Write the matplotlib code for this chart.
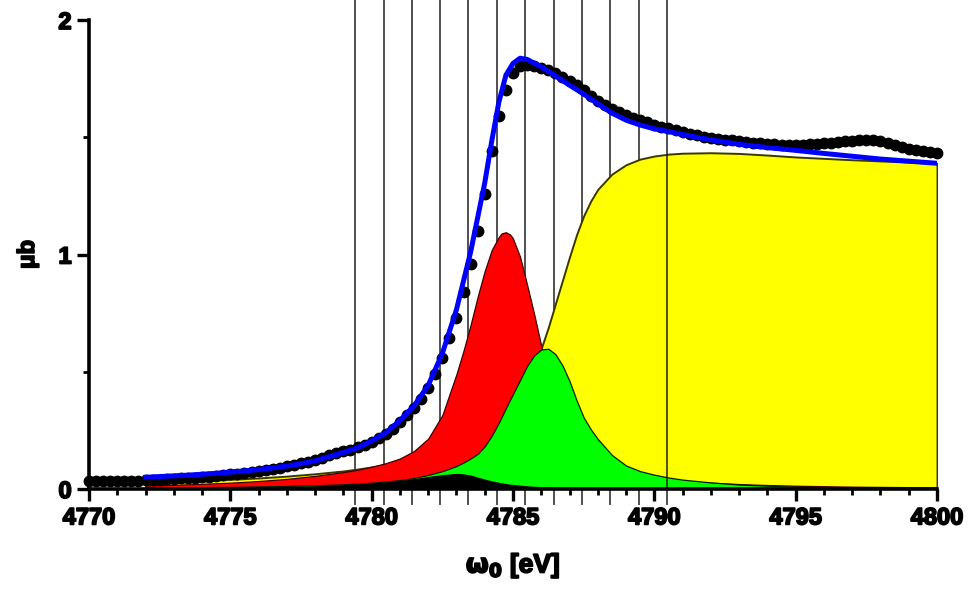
import matplotlib
matplotlib.use("Agg")
import matplotlib.pyplot as plt
import matplotlib.patheffects as pe
import numpy as np

# ---------------- data ----------------
data_x = [4770.00 + 0.25 * i for i in range(121)]
data_y = [
    0.032, 0.032, 0.033, 0.033, 0.034, 0.034, 0.035, 0.036,   # 4770-4771.75
    0.037, 0.038, 0.040, 0.041, 0.043, 0.045, 0.047, 0.049,   # 4772-4773.75
    0.051, 0.053, 0.056, 0.059, 0.062, 0.065, 0.068, 0.072,   # 4774-4775.75
    0.076, 0.080, 0.085, 0.090, 0.096, 0.102, 0.109, 0.117,   # 4776-4777.75
    0.125, 0.134, 0.143, 0.152, 0.160, 0.168, 0.177, 0.189,   # 4778-4779.75
    0.200, 0.216, 0.234, 0.256, 0.285, 0.315, 0.345, 0.385,   # 4780-4781.75
    0.430, 0.490, 0.560, 0.645, 0.730, 0.840, 0.960, 1.100,   # 4782-4783.75
    1.260, 1.440, 1.590, 1.700, 1.772, 1.805, 1.810, 1.805,   # 4784-4785.75
    1.795, 1.785, 1.772, 1.758, 1.740, 1.722, 1.700, 1.675,   # 4786-4787.75
    1.655, 1.637, 1.622, 1.608, 1.594, 1.583, 1.573, 1.563,   # 4788-4789.75
    1.553, 1.545, 1.538, 1.530, 1.522, 1.515, 1.509, 1.503,   # 4790-4791.75
    1.498, 1.494, 1.490, 1.487, 1.483, 1.480, 1.477, 1.474,   # 4792-4793.75
    1.472, 1.470, 1.468, 1.467, 1.467, 1.468, 1.470, 1.472,   # 4794-4795.75
    1.474, 1.477, 1.480, 1.483, 1.486, 1.488, 1.489, 1.488,   # 4796-4797.75
    1.484, 1.477, 1.468, 1.460, 1.452, 1.446, 1.440, 1.436,   # 4798-4799.75
    1.432,                                                    # 4800
]

fit_x = [4772, 4772.5, 4773, 4773.5, 4774, 4774.5, 4775, 4775.5, 4776, 4776.5,
         4777, 4777.5, 4778, 4778.5, 4779, 4779.5, 4780, 4780.5, 4781, 4781.5,
         4782, 4782.5, 4783, 4783.5, 4784, 4784.25, 4784.5, 4784.75, 4785,
         4785.25, 4785.5, 4786, 4786.5, 4787, 4787.5, 4788, 4788.5, 4789,
         4789.5, 4790, 4790.5, 4791, 4791.5, 4792, 4793, 4794, 4795, 4796,
         4797, 4798, 4799, 4800]
fit_y = [0.050, 0.053, 0.056, 0.059, 0.063, 0.067, 0.072, 0.077, 0.083, 0.090,
         0.098, 0.108, 0.120, 0.138, 0.156, 0.176, 0.205, 0.240, 0.292, 0.355,
         0.442, 0.578, 0.765, 1.010, 1.305, 1.485, 1.650, 1.765, 1.815,
         1.837, 1.832, 1.800, 1.762, 1.722, 1.684, 1.643, 1.603, 1.573,
         1.552, 1.536, 1.524, 1.512, 1.500, 1.489, 1.470, 1.456, 1.444, 1.431,
         1.419, 1.407, 1.398, 1.389]

comp_x = [4772, 4773, 4774, 4775, 4776, 4777, 4778, 4779, 4779.5, 4780,
          4780.5, 4781, 4781.5, 4782, 4782.5, 4783, 4783.25, 4783.5, 4783.75,
          4784, 4784.25, 4784.5, 4784.6, 4784.75, 4784.9, 4785, 4785.25,
          4785.5, 4785.75, 4786, 4786.25, 4786.5, 4786.75, 4787, 4787.25,
          4787.5, 4787.75, 4788, 4788.5, 4789, 4789.5, 4790, 4790.5, 4791,
          4792, 4793, 4794, 4795, 4796, 4797, 4798, 4799, 4800]
step_y = [0.027, 0.031, 0.036, 0.041, 0.047, 0.055, 0.065, 0.077, 0.085, 0.094,
          0.104, 0.115, 0.128, 0.143, 0.160, 0.180, 0.193, 0.207, 0.222,
          0.240, 0.262, 0.287, 0.298, 0.317, 0.338, 0.352, 0.393,
          0.440, 0.510, 0.600, 0.690, 0.790, 0.890, 0.990, 1.085,
          1.165, 1.228, 1.278, 1.343, 1.383, 1.407, 1.420, 1.428, 1.432,
          1.434, 1.431, 1.424, 1.416, 1.410, 1.404, 1.399, 1.394, 1.389]
red_y = [0.015, 0.018, 0.022, 0.027, 0.034, 0.043, 0.056, 0.072, 0.082, 0.095,
         0.110, 0.130, 0.162, 0.215, 0.315, 0.490, 0.590, 0.700, 0.820,
         0.930, 1.020, 1.075, 1.090, 1.095, 1.085, 1.068, 0.990,
         0.870, 0.745, 0.610, 0.500, 0.400, 0.320, 0.260, 0.210,
         0.175, 0.145, 0.122, 0.092, 0.072, 0.058, 0.048, 0.041, 0.035,
         0.027, 0.021, 0.017, 0.014, 0.012, 0.010, 0.009, 0.008, 0.007]
green_y = [0.006, 0.007, 0.008, 0.009, 0.011, 0.013, 0.016, 0.020, 0.023, 0.027,
           0.032, 0.038, 0.047, 0.060, 0.076, 0.098, 0.113, 0.130, 0.150,
           0.182, 0.228, 0.283, 0.308, 0.345, 0.382, 0.405, 0.465,
           0.525, 0.570, 0.595, 0.598, 0.575, 0.527, 0.460, 0.378,
           0.305, 0.255, 0.213, 0.145, 0.100, 0.076, 0.061, 0.049, 0.040,
           0.028, 0.019, 0.014, 0.010, 0.007, 0.005, 0.004, 0.003, 0.002]
black_y = [0.003, 0.003, 0.004, 0.005, 0.006, 0.008, 0.011, 0.016, 0.019, 0.023,
           0.028, 0.034, 0.042, 0.051, 0.059, 0.064, 0.062, 0.057, 0.048,
           0.040, 0.032, 0.026, 0.024, 0.021, 0.018, 0.017, 0.014,
           0.011, 0.009, 0.008, 0.007, 0.006, 0.005, 0.005, 0.004,
           0.004, 0.004, 0.003, 0.003, 0.003, 0.002, 0.002, 0.002, 0.002,
           0.001, 0.001, 0.001, 0.001, 0.001, 0.001, 0.001, 0.001, 0.001]

vline_x = [4779.42, 4780.42, 4781.43, 4782.42, 4783.42, 4784.43, 4785.43,
           4786.44, 4787.44, 4788.44, 4789.45]
marker_line_x = 4790.45

x_ticks = [4770, 4775, 4780, 4785, 4790, 4795, 4800]
y_ticks = [0, 1, 2]

# ---------------- figure ----------------
plt.rcParams['font.family'] = ['Liberation Sans', 'DejaVu Sans']
fig = plt.figure(figsize=(9.71, 5.98), dpi=100)
ax = fig.add_axes([89 / 971, 1 - 489 / 598, 848 / 971, 469 / 598])

ax.set_xlim(4770, 4800)
ax.set_ylim(0, 2)

for xv in vline_x:
    ax.plot([xv, xv], [-0.068, 2.12], color='#202020', lw=1.1, zorder=1,
            clip_on=False, solid_capstyle='butt')

ax.fill_between(comp_x, 0, step_y, facecolor='#ffff00', edgecolor='#3a3a00',
                lw=1.4, zorder=2)
ax.fill_between(comp_x, 0, red_y, facecolor='#ff0000', edgecolor='#400000',
                lw=0.9, zorder=3)
ax.fill_between(comp_x, 0, green_y, facecolor='#00ff00', edgecolor='#002000',
                lw=0.9, zorder=4)
ax.fill_between(comp_x, 0, black_y, facecolor='black', edgecolor='black',
                lw=0.9, zorder=5)

ax.plot([marker_line_x, marker_line_x], [-0.068, 2.12], color='#202020',
        lw=1.1, zorder=6, clip_on=False, solid_capstyle='butt')

ax.plot(data_x, data_y, 'o', color='black', ms=7.5, zorder=7, clip_on=False)
ax.plot(fit_x, fit_y, '-', color='#0000ff', lw=3.6, zorder=8)

for s in ['top', 'right']:
    ax.spines[s].set_visible(False)
for s in ['left', 'bottom']:
    ax.spines[s].set_linewidth(2.6)
    ax.spines[s].set_zorder(9)

ax.set_xticks(x_ticks)
ax.set_yticks(y_ticks)
ax.set_xticks(np.arange(4770, 4801, 1), minor=True)
ax.set_yticks([0.5, 1.5], minor=True)
ax.tick_params(which='major', direction='out', length=8.5, width=2.4,
               labelsize=17, pad=4)
ax.tick_params(which='minor', direction='out', length=4.5, width=2.0)
heavy = [pe.withStroke(linewidth=1.3, foreground='black')]
for lab in ax.get_xticklabels() + ax.get_yticklabels():
    lab.set_fontweight('bold')
    lab.set_path_effects(heavy)

xl = ax.set_xlabel(r'$\mathbf{\omega_0}$ [eV]', fontsize=19, fontweight='bold',
                   labelpad=16)
yl = ax.set_ylabel('μb', fontsize=17, fontweight='bold', labelpad=14)
xl.set_path_effects(heavy)
yl.set_path_effects(heavy)

fig.savefig('out.png', dpi=100)
